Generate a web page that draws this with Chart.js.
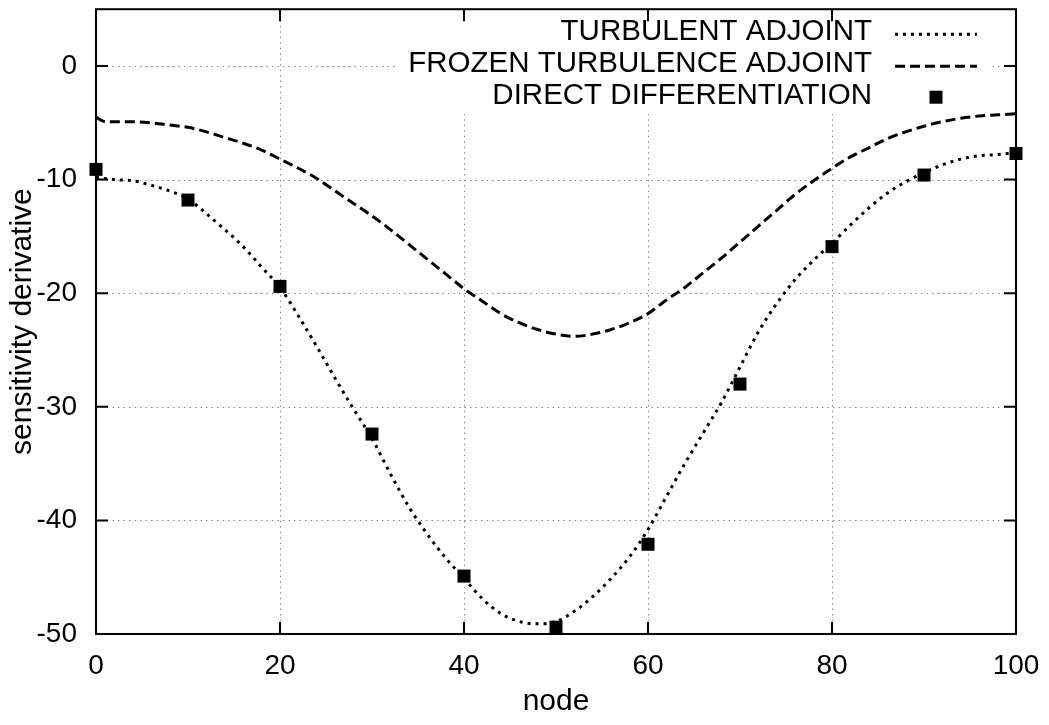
<!DOCTYPE html>
<html lang="en">
<head>
<meta charset="UTF-8">
<title>sensitivity derivative</title>
<script src="https://cdn.jsdelivr.net/npm/chart.js"></script>
<style>
    body { margin: 0; background: #fff; }
    canvas { display: block; }
</style>
</head>
<body>
<canvas id="myChart" width="1049" height="725"></canvas>
<script>
// series labels as in the key
const seriesLabels = ['TURBULENT ADJOINT', 'FROZEN TURBULENCE ADJOINT', 'DIRECT DIFFERENTIATION'];

// turbulent adjoint (dotted curve)
const turbNodes = [0, 2, 4, 6, 8, 10, 12, 14, 16, 18, 20, 22, 24, 26, 28, 30, 32, 34, 36, 38, 40,
    42, 44, 46, 48, 50, 52, 54, 56, 58, 60, 62, 64, 66, 68, 70, 72, 74, 76, 78, 80,
    82, 84, 86, 88, 90, 92, 94, 96, 98, 100];
const turbulentAdjoint = [-9.8, -10.0, -10.1, -10.5, -11.0, -11.7, -13.0, -14.4, -15.9, -17.7, -19.5,
    -22.0, -24.7, -27.5, -30.2, -32.8, -35.9, -38.8, -41.2, -43.3, -45.1,
    -46.9, -48.2, -48.9, -49.1, -48.9, -48.0, -46.7, -45.1, -43.2, -40.8,
    -37.9, -35.0, -32.3, -29.6, -26.5, -23.4, -20.9, -18.8, -17.1, -15.6,
    -14.0, -12.5, -11.2, -10.2, -9.4, -8.7, -8.2, -7.9, -7.8, -7.6];

// frozen turbulence adjoint (dashed curve)
const frozenNodes = [0, 1, 2, 4, 6, 8, 10, 12, 14, 16, 18, 20, 22, 24, 26, 28, 30, 32, 34, 36, 38, 40,
    42, 44, 46, 48, 50, 52, 54, 56, 58, 60, 62, 64, 66, 68, 70, 72, 74, 76, 78, 80,
    82, 84, 86, 88, 90, 92, 94, 96, 98, 100];
const frozenAdjoint = [-4.5, -4.9, -4.9, -4.9, -5.0, -5.2, -5.4, -5.8, -6.3, -6.8, -7.4, -8.2,
    -9.0, -9.9, -11.0, -12.1, -13.2, -14.4, -15.7, -17.0, -18.3, -19.6,
    -20.7, -21.8, -22.6, -23.2, -23.6, -23.8, -23.6, -23.2, -22.6, -21.8,
    -20.6, -19.5, -18.2, -16.9, -15.5, -14.1, -12.7, -11.3, -10.1, -9.0,
    -8.0, -7.2, -6.4, -5.8, -5.3, -4.9, -4.6, -4.4, -4.3, -4.2];

// direct differentiation (squares)
const ddNodes = [0, 10, 20, 30, 40, 50, 60, 70, 80, 90, 100];
const directDiff = [-9.1, -11.8, -19.4, -32.4, -44.9, -49.4, -42.1, -28.0, -15.9, -9.6, -7.7];

const xTicks = [0, 20, 40, 60, 80, 100];
const yTicks = [-50, -40, -30, -20, -10, 0];

const FONT = '"Liberation Sans", Arial, Helvetica, sans-serif';
const TURB_DASH = [3, 5];
const FROZEN_DASH = [10, 5];

function toPoints(xs, ys) {
    return xs.map((v, i) => ({ x: v, y: ys[i] }));
}

// gnuplot style frame: dotted grid, opaque key box, border with inward ticks
const gnuFrame = {
    id: 'gnuFrame',
    beforeDatasetsDraw(chart) {
        const { ctx, chartArea: a, scales: { x, y } } = chart;
        ctx.save();
        // grid
        ctx.strokeStyle = '#888';
        ctx.lineWidth = 1;
        ctx.setLineDash([1.5, 4]);
        xTicks.forEach(v => {
            const px = Math.round(x.getPixelForValue(v)) + 0.5;
            ctx.beginPath(); ctx.moveTo(px, a.top); ctx.lineTo(px, a.bottom); ctx.stroke();
        });
        yTicks.forEach(v => {
            const py = Math.round(y.getPixelForValue(v)) + 0.5;
            ctx.beginPath(); ctx.moveTo(a.left, py); ctx.lineTo(a.right, py); ctx.stroke();
        });
        ctx.setLineDash([]);
        // key box hides the grid behind it
        ctx.fillStyle = '#fff';
        ctx.fillRect(a.left + 302, a.top, a.width - 325, 105);
        // border + ticks
        ctx.strokeStyle = '#000';
        ctx.lineWidth = 2;
        ctx.strokeRect(a.left, a.top, a.width, a.height);
        const tl = 12;
        ctx.beginPath();
        xTicks.forEach(v => {
            const px = x.getPixelForValue(v);
            ctx.moveTo(px, a.bottom); ctx.lineTo(px, a.bottom - tl);
            ctx.moveTo(px, a.top); ctx.lineTo(px, a.top + tl);
        });
        yTicks.forEach(v => {
            const py = y.getPixelForValue(v);
            ctx.moveTo(a.left, py); ctx.lineTo(a.left + tl, py);
            ctx.moveTo(a.right, py); ctx.lineTo(a.right - tl, py);
        });
        ctx.stroke();
        ctx.restore();
    },
    afterDatasetsDraw(chart) {
        const { ctx, chartArea: a } = chart;
        ctx.save();
        ctx.font = '29.5px ' + FONT;
        ctx.fillStyle = '#000';
        ctx.textAlign = 'right';
        ctx.textBaseline = 'middle';
        const textRight = a.left + 776;
        const sx0 = a.left + 799, sx1 = a.left + 881;
        seriesLabels.forEach((label, i) => {
            const yy = a.top + 23 + i * 32;
            ctx.fillText(label, textRight, yy);
            ctx.strokeStyle = '#000';
            ctx.lineWidth = 3;
            if (i === 0 || i === 1) {
                ctx.setLineDash(i === 0 ? TURB_DASH : FROZEN_DASH);
                ctx.beginPath(); ctx.moveTo(sx0, yy + 2); ctx.lineTo(sx1, yy + 2); ctx.stroke();
                ctx.setLineDash([]);
            } else {
                const cx = (sx0 + sx1) / 2;
                ctx.fillRect(cx - 6.5, yy + 1 - 6.5, 13, 13);
            }
        });
        ctx.restore();
    }
};

const ctx = document.getElementById('myChart').getContext('2d');
new Chart(ctx, {
    type: 'scatter',
    data: {
        datasets: [
            {
                label: seriesLabels[2],
                data: toPoints(ddNodes, directDiff),
                showLine: false,
                pointStyle: 'rect',
                pointRadius: 9.2,
                pointBorderWidth: 0,
                backgroundColor: '#000',
                borderColor: '#000',
                clip: false,
                order: 0
            },
            {
                label: seriesLabels[0],
                data: toPoints(turbNodes, turbulentAdjoint),
                showLine: true,
                borderColor: '#000',
                borderWidth: 3,
                borderDash: TURB_DASH,
                pointRadius: 0,
                cubicInterpolationMode: 'monotone',
                order: 1
            },
            {
                label: seriesLabels[1],
                data: toPoints(frozenNodes, frozenAdjoint),
                showLine: true,
                borderColor: '#000',
                borderWidth: 3,
                borderDash: FROZEN_DASH,
                pointRadius: 0,
                cubicInterpolationMode: 'monotone',
                order: 2
            }
        ]
    },
    options: {
        responsive: false,
        animation: false,
        layout: { padding: { left: 0, right: 33, top: 7, bottom: 0 } },
        scales: {
            x: {
                type: 'linear',
                min: 0,
                max: 100,
                afterBuildTicks: s => { s.ticks = xTicks.map(v => ({ value: v })); },
                afterFit: s => { s.height = 91; s.paddingLeft = 0; s.paddingRight = 0; },
                grid: { display: false, drawTicks: false },
                border: { display: false },
                ticks: { color: '#000', padding: 15, font: { family: FONT, size: 28 } },
                title: { display: true, text: 'node', color: '#000', padding: { top: 0, bottom: 5 }, font: { family: FONT, size: 30 } }
            },
            y: {
                type: 'linear',
                min: -50,
                max: 5,
                afterBuildTicks: s => { s.ticks = yTicks.map(v => ({ value: v })); },
                afterFit: s => { s.width = 96; s.paddingTop = 0; s.paddingBottom = 0; },
                grid: { display: false, drawTicks: false },
                border: { display: false },
                ticks: { color: '#000', padding: 19, font: { family: FONT, size: 28 } },
                title: { display: true, text: 'sensitivity derivative', color: '#000', padding: { top: 5, bottom: 0 }, font: { family: FONT, size: 30 } }
            }
        },
        plugins: {
            legend: { display: false },
            tooltip: { enabled: false }
        }
    },
    plugins: [gnuFrame]
});
</script>
</body>
</html>
